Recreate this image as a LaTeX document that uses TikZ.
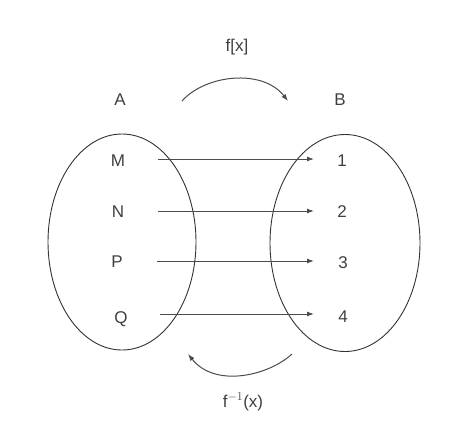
\documentclass[tikz,border=0pt]{standalone}
\usepackage{fontspec}
\setmainfont{Liberation Sans}
\usetikzlibrary{arrows.meta,shapes.geometric}
\begin{document}
\begin{tikzpicture}[x=1pt,y=-1pt,
  lbl/.style={font=\fontsize{17}{19}\selectfont, text=black!75, inner sep=1pt},
  setline/.style={draw=black!80, line width=0.9pt},
  maparrow/.style={draw=black!70, line width=1pt, -{Latex[length=7pt,width=5pt]}}]
\useasboundingbox (0,0) rectangle (470,447);
\fill[white] (0,0) rectangle (470,447);
\node[setline, ellipse, minimum width=148pt, minimum height=216pt] (SA) at (122,242) {};
\node[setline, ellipse, minimum width=150pt, minimum height=217pt] (SB) at (345,243) {};
\node[lbl] (A) at (120,100) {A};
\node[lbl] (B) at (340,100) {B};
\node[lbl] (f) at (237,47) {f[x]};
\node[lbl] (finv) at (243,402) {f$^{-1}$(x)};
\node[lbl] (M) at (118,161) {M};
\node[lbl] (N) at (118,212) {N};
\node[lbl] (P) at (117,262) {P};
\node[lbl] (Q) at (121,319) {Q};
\node[lbl] (n1) at (342,161) {1};
\node[lbl] (n2) at (342,212) {2};
\node[lbl] (n3) at (343,263) {3};
\node[lbl] (n4) at (343,317) {4};
\coordinate (m1) at (158,159); \coordinate (m2) at (314,159);
\coordinate (n1a) at (158,211); \coordinate (n2a) at (314,211);
\coordinate (p1) at (157,261); \coordinate (p2) at (314,261);
\coordinate (q1) at (160,314); \coordinate (q2) at (314,314);
\draw[maparrow] (m1) -- (m2);
\draw[maparrow] (n1a) -- (n2a);
\draw[maparrow] (p1) -- (p2);
\draw[maparrow] (q1) -- (q2);
\coordinate (t1) at (182,101); \coordinate (t2) at (288,101);
\draw[maparrow] (t1) .. controls (205,75) and (262,68) .. (t2);
\coordinate (b1) at (292,354); \coordinate (b2) at (188,354);
\draw[maparrow] (b1) .. controls (268,376) and (215,388) .. (b2);
\end{tikzpicture}
\end{document}
